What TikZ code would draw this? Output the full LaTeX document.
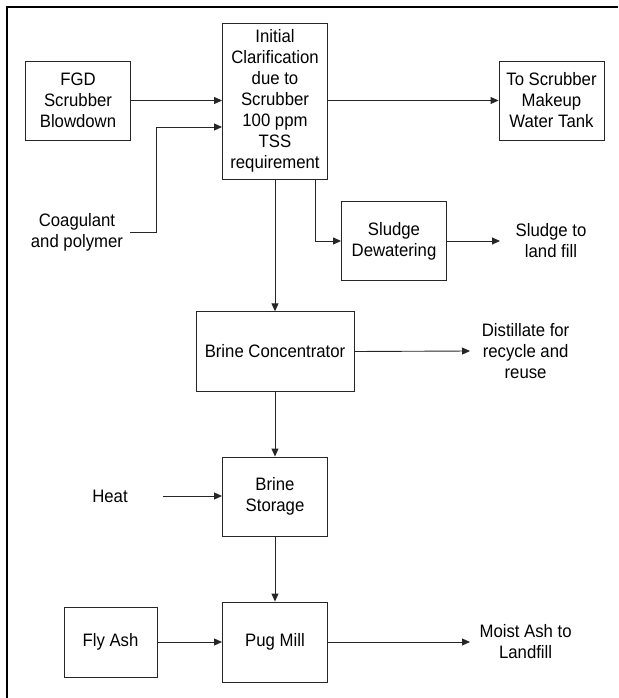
\documentclass[tikz,border=0pt]{standalone}
\usepackage{fontspec}
\setmainfont{Liberation Sans}[FakeStretch=0.93]
\usetikzlibrary{arrows.meta}
\begin{document}
\begin{tikzpicture}[x=1pt,y=-1pt,
  txt/.style={align=center, inner sep=0pt, font=\fontsize{18}{21}\selectfont},
  box/.style={txt, draw=black!85, line width=0.9pt, minimum width=105pt, minimum height=79pt},
  arr/.style={draw=black!85, line width=0.9pt, -{Triangle[length=8pt,width=7pt]}},
  rule/.style={line width=2.4pt}]
\useasboundingbox (0,0) rectangle (618,698);

% page rules
\draw[rule] (7,698) -- (7,7) -- (618,7);

% process boxes
\node[box, minimum height=156pt] (init) at (275,101)
  {Initial\\Clarification\\due to\\Scrubber\\100 ppm\\TSS\\requirement};
\node[box] (fgd)  at (78,100.5)  {FGD\\Scrubber\\Blowdown};
\node[box] (tank) at (551.5,100.5) {To Scrubber\\Makeup\\Water Tank};
\node[box, minimum height=78.5pt] (sludge) at (394,241) {Sludge\\Dewatering};
\node[box, minimum width=158pt, minimum height=79.5pt] (bc) at (275,351.5) {Brine Concentrator};
\node[box] (bs)  at (275,496.5) {Brine\\Storage};
\node[box, minimum height=80pt] (pug) at (275,642) {Pug Mill};
\node[box, minimum width=93pt, minimum height=70pt] (fly) at (110.5,642) {Fly Ash};

% free labels
\node[txt] (coag)  at (77,232.5)  {Coagulant\\and polymer};
\node[txt] (slout) at (551,241)   {Sludge to\\land fill};
\node[txt] (dist)  at (525.6,351) {Distillate for\\recycle and\\reuse};
\node[txt] (heat)  at (110,496)   {Heat};
\node[txt] (moist) at (525.6,642) {Moist Ash to\\Landfill};

% junction and end points
\coordinate (coagS) at (130,232.5);
\coordinate (coagJ) at (156.7,127);
\coordinate (sludgeJ) at (315,241);
\coordinate (sloutE) at (500,241);
\coordinate (distE) at (470,351);
\coordinate (heatS) at (163,496);
\coordinate (moistE) at (470,642);

% connectors
\draw[arr] (fgd.east) -- (fgd.east -| init.west);
\draw[arr] (coagS) -| (coagJ) -- (coagJ -| init.west);
\draw[arr] (init.east |- tank.west) -- (tank.west);
\draw[arr] (sludgeJ |- init.south) |- (sludge.west);
\draw[arr] (sludge.east) -- (sloutE);
\draw[arr] (init.south) -- (bc.north);
\draw[arr] (bc.east) -- (distE);
\draw[arr] (bc.south) -- (bs.north);
\draw[arr] (heatS) -- (heatS -| bs.west);
\draw[arr] (bs.south) -- (pug.north);
\draw[arr] (fly.east) -- (pug.west);
\draw[arr] (pug.east) -- (moistE);
\end{tikzpicture}
\end{document}
